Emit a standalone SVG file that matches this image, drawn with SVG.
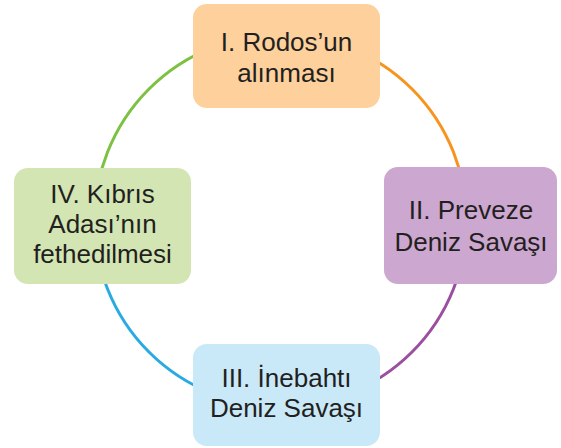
<svg xmlns="http://www.w3.org/2000/svg" width="561" height="448" viewBox="0 0 561 448">
<style>
.arc{fill:none;stroke-width:3}
.t{font-family:"Liberation Sans",Arial,sans-serif;font-size:26px;fill:#231f20;text-anchor:middle}
</style>
<rect width="561" height="448" fill="#ffffff"/>
<g id="connectors">
<path class="arc" stroke="#7dc142" d="M 94.5 220.5 A 186 186 0 0 1 280.5 34.5"/>
<path class="arc" stroke="#f7941d" d="M 280.5 34.5 A 186 186 0 0 1 466.5 220.5"/>
<path class="arc" stroke="#9b4f9f" d="M 466.5 220.5 A 186 186 0 0 1 280.5 406.5"/>
<path class="arc" stroke="#29abe2" d="M 280.5 406.5 A 186 186 0 0 1 94.5 220.5"/>
</g>
<g id="node-1">
<rect x="193" y="4" width="187" height="104" rx="14" fill="#fdd09c"/>
<text class="t" x="286.5" y="51">I. Rodos’un</text>
<text class="t" x="286.5" y="82">alınması</text>
</g>
<g id="node-2">
<rect x="384" y="167" width="173" height="117" rx="14" fill="#cca7d0"/>
<text class="t" x="471" y="219">II. Preveze</text>
<text class="t" x="471" y="251">Deniz Savaşı</text>
</g>
<g id="node-3">
<rect x="193" y="344" width="187" height="102" rx="14" fill="#c9e8f8"/>
<text class="t" x="286.5" y="387">III. İnebahtı</text>
<text class="t" x="286.5" y="417">Deniz Savaşı</text>
</g>
<g id="node-4">
<rect x="14" y="168" width="177" height="116" rx="14" fill="#d2e5b3"/>
<text class="t" x="102.5" y="203">IV. Kıbrıs</text>
<text class="t" x="102.5" y="233">Adası’nın</text>
<text class="t" x="102.5" y="263">fethedilmesi</text>
</g>
</svg>
